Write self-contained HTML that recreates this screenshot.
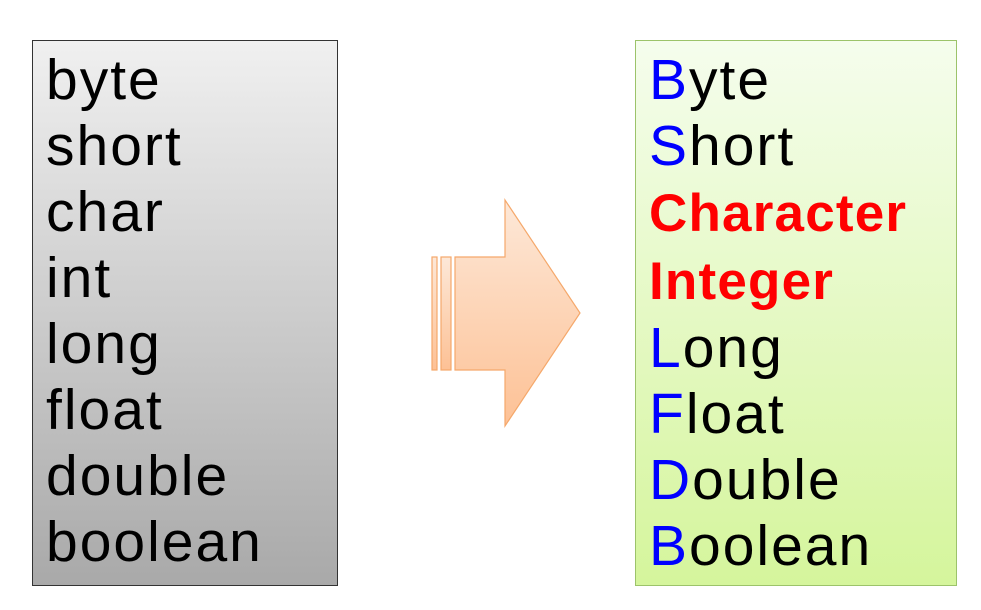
<!DOCTYPE html>
<html><head><meta charset="utf-8"><style>
body{margin:0;width:981px;height:610px;background:#fff;position:relative;overflow:hidden;font-family:"Liberation Sans","DejaVu Sans",sans-serif}
.box{position:absolute;top:40px;height:546px;box-sizing:border-box}
#l{left:32px;width:306px;background:linear-gradient(#f0f0f0,#a9a9a9);border:1px solid #333}
#r{left:635px;width:322px;background:linear-gradient(#f5fded,#d5f59c);border:1px solid #9cc36a}
.t{position:absolute;font-size:57px;line-height:66px;white-space:nowrap;color:#000;letter-spacing:2px}
.b{color:#0000ff}.red{color:#ff0000;font-weight:bold;font-size:53px;letter-spacing:1.2px}
</style></head><body>
<div id="l" class="box"></div>
<div id="r" class="box"></div>
<div class="t" style="left:46px;top:47px">byte<br>short<br>char<br>int<br>long<br>float<br>double<br>boolean</div>
<div class="t" style="left:649px;top:47px"><span class="b">B</span>yte<br><span class="b">S</span>hort<br><span class="red">Character</span><br><span class="red">Integer</span><br><span class="b">L</span>ong<br><span class="b">F</span>loat<br><span class="b">D</span>ouble<br><span class="b">B</span>oolean</div>
<svg width="981" height="610" style="position:absolute;left:0;top:0">
<defs><linearGradient id="g" x1="0" y1="0" x2="0" y2="1"><stop offset="0" stop-color="#fde8d8"/><stop offset="1" stop-color="#fdc195"/></linearGradient></defs>
<g fill="url(#g)" stroke="#f5a86b" stroke-width="1.2">
<rect x="432" y="257" width="5" height="113"/>
<rect x="441" y="257" width="10" height="113"/>
<path d="M455 257 L505 257 L505 200 L580 313 L505 426 L505 370 L455 370 Z"/>
</g></svg>
</body></html>
